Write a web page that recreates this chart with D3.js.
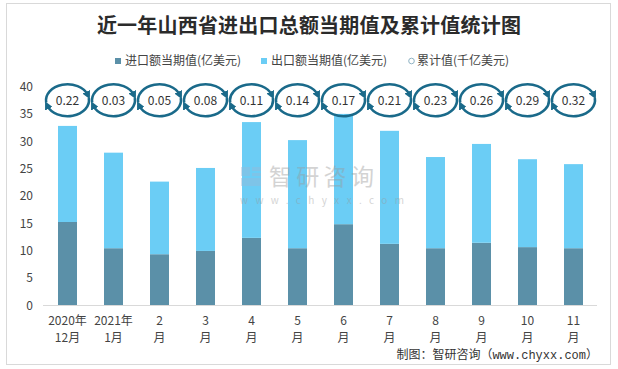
<!DOCTYPE html>
<html><head><meta charset="utf-8">
<script src="https://cdn.jsdelivr.net/npm/d3@7/dist/d3.min.js"></script>
<style>
html,body{margin:0;padding:0;background:#fff;}
svg{display:block;}
text{font-family:"Noto Sans CJK SC","Noto Sans",sans-serif;}
</style></head>
<body>
<script>
const categories = ["2020年12月","2021年1月","2月","3月","4月","5月","6月","7月","8月","9月","10月","11月"];
const tickLine1 = ["2020年","2021年","2","3","4","5","6","7","8","9","10","11"];
const tickLine2 = ["12月","1月","月","月","月","月","月","月","月","月","月","月"];
const importVals = [15.2, 10.4, 9.3, 9.9, 12.3, 10.4, 14.8, 11.2, 10.4, 11.4, 10.6, 10.4];
const exportVals = [17.6, 17.5, 13.3, 15.2, 21.2, 19.8, 20.2, 20.7, 16.7, 18.1, 16.1, 15.4];
const cumulative = [0.22, 0.03, 0.05, 0.08, 0.11, 0.14, 0.17, 0.21, 0.23, 0.26, 0.29, 0.32];
const yTicks = [0,5,10,15,20,25,30,35,40];
const seriesNames = ["进口额当期值(亿美元)","出口额当期值(亿美元)","累计值(千亿美元)"];

const W = 618, H = 369;
const colImport = "#5b90a8", colExport = "#6bcdf5", colRing = "#1a6a8a";
const svg = d3.select("body").append("svg").attr("width", W).attr("height", H);

// border
svg.append("rect").attr("x",6.5).attr("y",3.5).attr("width",604).attr("height",361)
  .attr("fill","#fff").attr("stroke","#d9d9d9").attr("stroke-width",1);

// title
svg.append("text").attr("x",309).attr("y",33).attr("text-anchor","middle")
  .attr("font-size",20).attr("font-weight","bold").attr("fill","#2b2b2b")
  .attr("letter-spacing",0.2).text("近一年山西省进出口总额当期值及累计值统计图");

// legend
const lg = svg.append("g").attr("font-size",12);
lg.append("rect").attr("x",115).attr("y",58).attr("width",6).attr("height",6).attr("fill",colImport);
lg.append("text").attr("x",125).attr("y",65).attr("fill","#444").text(seriesNames[0]);
lg.append("rect").attr("x",261).attr("y",58).attr("width",6).attr("height",6).attr("fill",colExport);
lg.append("text").attr("x",271).attr("y",65).attr("fill","#444").text(seriesNames[1]);
lg.append("circle").attr("cx",411.5).attr("cy",61).attr("r",2.8).attr("fill","none").attr("stroke","#8fb3c4").attr("stroke-width",1);
lg.append("text").attr("x",417).attr("y",65).attr("fill","#444").text(seriesNames[2]);

// scales
const x = d3.scaleBand().domain(categories).range([44.5,596.5]).paddingInner(1-19/46).paddingOuter((1-19/46)/2);
const y = d3.scaleLinear().domain([0,40]).range([305,86.6]);

// bars
const bars = svg.append("g");
bars.selectAll("rect.imp").data(categories).join("rect").attr("class","imp")
  .attr("x",d=>x(d)).attr("width",x.bandwidth())
  .attr("y",(d,i)=>y(importVals[i])).attr("height",(d,i)=>y(0)-y(importVals[i]))
  .attr("fill",colImport);
bars.selectAll("rect.exp").data(categories).join("rect").attr("class","exp")
  .attr("x",d=>x(d)).attr("width",x.bandwidth())
  .attr("y",(d,i)=>y(importVals[i]+exportVals[i])).attr("height",(d,i)=>y(importVals[i])-y(importVals[i]+exportVals[i]))
  .attr("fill",colExport);

// watermark (on top, translucent)
const wm = svg.append("g").attr("opacity",0.42);
wm.append("rect").attr("x",241).attr("y",167).attr("width",9).attr("height",9).attr("fill","#9ab8d8");
wm.append("rect").attr("x",252).attr("y",167).attr("width",9).attr("height",4).attr("fill","#9ab8d8");
wm.append("rect").attr("x",252).attr("y",173).attr("width",9).attr("height",3).attr("fill","#9ab8d8");
wm.append("rect").attr("x",241).attr("y",178).attr("width",20).attr("height",8).attr("fill","#9ab8d8");
wm.append("text").attr("x",269).attr("y",185).attr("font-size",23).attr("fill","#999").attr("letter-spacing",4.3).text("智研咨询");
wm.append("text").attr("x",240).attr("y",204).attr("font-size",10).attr("fill","#999").attr("letter-spacing",7.4).text("www.chyxx.com");

// axes
svg.append("line").attr("x1",43).attr("x2",597).attr("y1",305.5).attr("y2",305.5).attr("stroke","#d9d9d9");
const ya = svg.append("g").attr("font-size",12);
ya.selectAll("text").data(yTicks).join("text").attr("x",33).attr("y",d=>y(d)+4.5)
  .attr("text-anchor","end").attr("fill","#444").text(d=>d);
const xa = svg.append("g").attr("font-size",12);
xa.selectAll("text.l1").data(categories).join("text").attr("class","l1")
  .attr("x",d=>x(d)+x.bandwidth()/2).attr("y",325).attr("text-anchor","middle").attr("fill","#444")
  .text((d,i)=>tickLine1[i]);
xa.selectAll("text.l2").data(categories).join("text").attr("class","l2")
  .attr("x",d=>x(d)+x.bandwidth()/2).attr("y",342).attr("text-anchor","middle").attr("fill","#444")
  .text((d,i)=>tickLine2[i]);

// cumulative rings
const defs = svg.append("defs");
defs.append("marker").attr("id","ah").attr("viewBox","0 0 10 10").attr("refX",4).attr("refY",5)
  .attr("markerWidth",3.2).attr("markerHeight",3.2).attr("orient","auto")
  .append("path").attr("d","M0,0 L10,5 L0,10 z").attr("fill",colRing);
const rx = 21.5, ry = 16;
const ringY = y(37.5);
function pt(cx, cy, deg){const a=deg*Math.PI/180;return [cx+rx*Math.cos(a), cy+ry*Math.sin(a)];}
const rings = svg.append("g");
categories.forEach((c,i)=>{
  const cx = x(c)+x.bandwidth()/2, cy = ringY;
  const g = rings.append("g");
  let s = pt(cx,cy,172), e = pt(cx,cy,340);
  g.append("path").attr("d",`M${s[0]},${s[1]} A${rx},${ry} 0 0 1 ${e[0]},${e[1]}`)
    .attr("fill","none").attr("stroke",colRing).attr("stroke-width",2.6).attr("marker-end","url(#ah)");
  s = pt(cx,cy,352); e = pt(cx,cy,160);
  g.append("path").attr("d",`M${s[0]},${s[1]} A${rx},${ry} 0 0 1 ${e[0]},${e[1]}`)
    .attr("fill","none").attr("stroke",colRing).attr("stroke-width",2.6).attr("marker-end","url(#ah)");
  g.append("text").attr("x",cx).attr("y",cy+4.5).attr("text-anchor","middle").attr("font-size",12)
    .attr("fill","#333").text(cumulative[i].toFixed(2));
});

// footer
svg.append("text").attr("x",598).attr("y",359).attr("text-anchor","end").attr("font-size",12)
  .attr("fill","#333").style("font-family","'Liberation Mono','Noto Sans CJK SC',monospace")
  .text("制图：智研咨询（www.chyxx.com）");
</script>
</body></html>
